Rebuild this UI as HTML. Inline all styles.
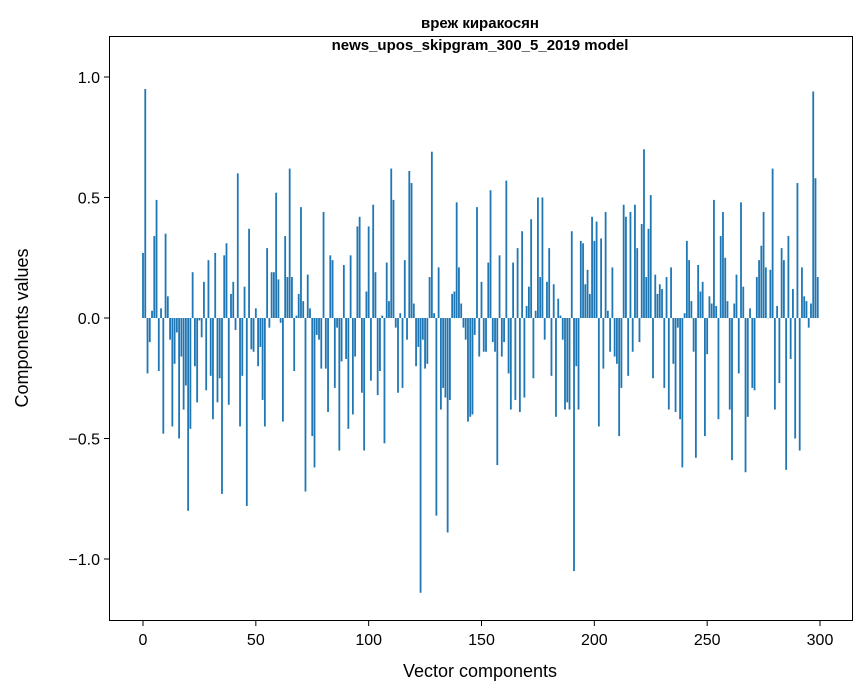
<!DOCTYPE html>
<html><head><meta charset="utf-8"><style>
body{margin:0;background:#fff;}
svg{display:block;font-family:"Liberation Sans","DejaVu Sans",sans-serif;}
</style></head><body>
<svg id="chart" width="867" height="696">
<text x="480" y="28" text-anchor="middle" font-size="15" font-weight="bold">вреж киракосян</text>
<text x="480" y="50" text-anchor="middle" font-size="15" font-weight="bold">news_upos_skipgram_300_5_2019 model</text>
<g id="bars"></g>
<rect x="109.5" y="36.5" width="743" height="584" fill="none" stroke="#000" stroke-width="1"/>
<g id="xticks"></g>
<g id="yticks"></g>
<text x="480" y="677" text-anchor="middle" font-size="18">Vector components</text>
<text transform="translate(28,328) rotate(-90)" text-anchor="middle" font-size="18">Components values</text>
</svg>
<script>
const values = [0.27,0.95,-0.23,-0.10,0.03,0.34,0.49,-0.22,0.04,-0.48,
0.35,0.09,-0.09,-0.45,-0.19,-0.06,-0.50,-0.16,-0.38,-0.28,
-0.80,-0.46,0.19,-0.20,-0.35,-0.01,-0.08,0.15,-0.30,0.24,
-0.24,-0.42,0.27,-0.35,-0.25,-0.73,0.26,0.31,-0.36,0.10,
0.15,-0.05,0.60,-0.45,-0.24,0.13,-0.78,0.37,-0.13,-0.14,
0.04,-0.20,-0.12,-0.34,-0.45,0.29,-0.04,0.19,0.19,0.52,
0.16,-0.02,-0.43,0.34,0.17,0.62,0.17,-0.22,0.01,0.10,
0.46,0.07,-0.72,0.18,0.04,-0.49,-0.62,-0.07,-0.09,-0.21,
0.44,-0.21,-0.39,0.26,0.24,-0.29,-0.04,-0.55,-0.18,0.22,
-0.17,-0.46,0.26,-0.40,-0.16,0.38,0.42,-0.31,-0.55,0.11,
0.38,-0.26,0.47,0.19,-0.32,-0.22,0.01,-0.52,0.23,0.07,
0.62,0.49,-0.04,-0.31,0.02,-0.29,0.24,-0.09,0.61,0.56,
0.06,-0.20,-0.12,-1.14,-0.09,-0.21,-0.19,0.17,0.69,0.02,
-0.82,0.21,-0.38,-0.29,-0.33,-0.89,-0.34,0.10,0.11,0.48,
0.21,0.06,-0.04,-0.09,-0.43,-0.41,-0.40,-0.07,0.46,-0.16,
0.15,-0.14,-0.14,0.23,0.53,-0.10,-0.14,-0.61,0.26,-0.16,
-0.10,0.57,-0.23,-0.38,0.23,-0.34,0.29,-0.39,0.36,-0.33,
0.05,0.13,0.41,-0.25,0.03,0.50,0.17,0.50,-0.09,0.15,
0.29,-0.24,0.14,-0.41,0.08,0.01,-0.09,-0.38,-0.35,-0.38,
0.36,-1.05,-0.20,-0.38,0.32,0.31,0.14,0.20,0.10,0.42,
0.32,0.40,-0.45,0.33,-0.21,0.44,0.03,-0.14,0.21,-0.16,
-0.19,-0.49,-0.29,0.47,0.42,-0.24,0.44,-0.14,0.47,0.29,
-0.10,0.39,0.70,0.17,0.37,0.51,-0.25,0.18,0.10,0.14,
0.12,-0.29,0.17,-0.38,0.21,-0.19,-0.39,-0.04,-0.42,-0.62,
0.02,0.32,0.24,0.07,-0.14,-0.58,0.22,0.11,0.15,-0.49,
-0.15,0.09,0.06,0.49,0.05,-0.42,0.34,0.44,0.25,0.07,
-0.38,-0.59,0.06,0.18,-0.23,0.48,0.13,-0.64,-0.41,0.04,
-0.29,-0.30,0.17,0.24,0.30,0.44,0.21,0.00,0.20,0.62,
-0.38,0.05,-0.27,0.29,0.24,-0.63,0.34,-0.17,0.12,-0.50,
0.56,-0.55,0.21,0.09,0.07,-0.04,0.06,0.94,0.58,0.17];
const xTicks = [0,50,100,150,200,250,300];
const yTicks = [-1.0,-0.5,0.0,0.5,1.0];
const yTickLabels = ["\u22121.0","\u22120.5","0.0","0.5","1.0"];

const NS = "http://www.w3.org/2000/svg";
const xScale = v => 143 + v * (677 / 300);
const yScale = v => 318 - v * 241;
const bw = 0.8 * 677 / 300;

const gb = document.getElementById('bars');
values.forEach((v, i) => {
  const r = document.createElementNS(NS, 'rect');
  const y0 = yScale(0), y1 = yScale(v);
  r.setAttribute('x', xScale(i) - bw / 2);
  r.setAttribute('y', Math.min(y0, y1));
  r.setAttribute('width', bw);
  r.setAttribute('height', Math.max(Math.abs(y1 - y0), 0.3));
  r.setAttribute('fill', '#1f77b4');
  
  
  gb.appendChild(r);
});

const gx = document.getElementById('xticks');
xTicks.forEach(t => {
  const x = xScale(t);
  const l = document.createElementNS(NS, 'line');
  l.setAttribute('x1', x); l.setAttribute('x2', x);
  l.setAttribute('y1', 621); l.setAttribute('y2', 626);
  l.setAttribute('stroke', '#000');
  
  
  gx.appendChild(l);
  const tx = document.createElementNS(NS, 'text');
  tx.setAttribute('x', x); tx.setAttribute('y', 645);
  tx.setAttribute('text-anchor', 'middle');
  tx.setAttribute('font-size', '16');
  tx.textContent = t;
  
  
  gx.appendChild(tx);
});

const gy = document.getElementById('yticks');
yTicks.forEach((t, i) => {
  const y = yScale(t);
  const l = document.createElementNS(NS, 'line');
  l.setAttribute('x1', 104); l.setAttribute('x2', 109);
  l.setAttribute('y1', y); l.setAttribute('y2', y);
  l.setAttribute('stroke', '#000');
  
  
  gy.appendChild(l);
  const tx = document.createElementNS(NS, 'text');
  tx.setAttribute('x', 100); tx.setAttribute('y', y + 6);
  tx.setAttribute('text-anchor', 'end');
  tx.setAttribute('font-size', '16');
  tx.textContent = yTickLabels[i];
  
  
  gy.appendChild(tx);
});
</script>
</body></html>
